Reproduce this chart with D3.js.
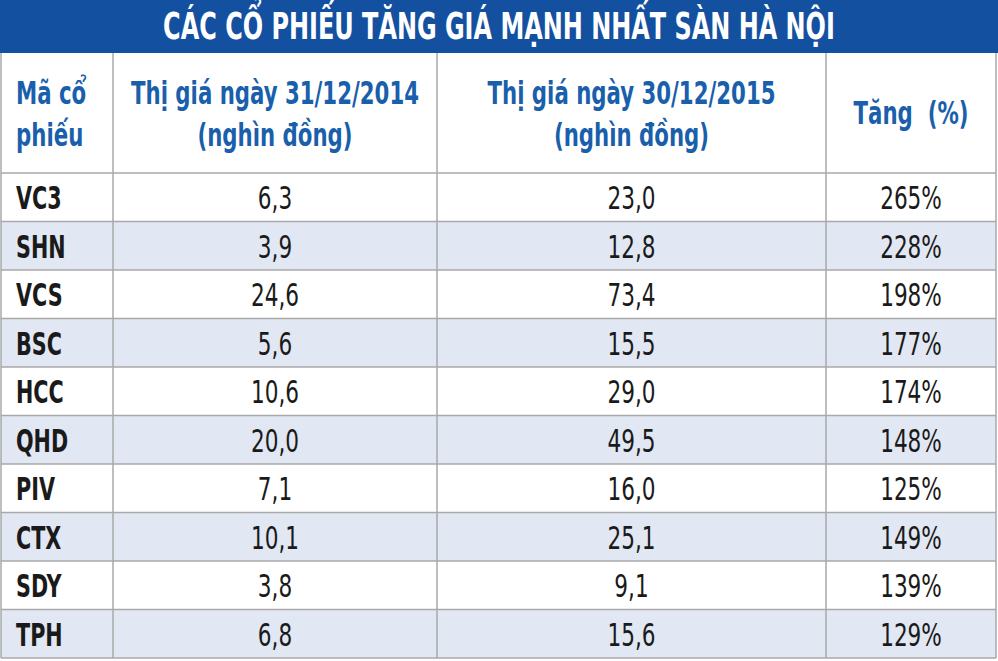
<!DOCTYPE html>
<html><head><meta charset="utf-8">
<script src="https://cdn.jsdelivr.net/npm/d3@7"></script>
<style>body{margin:0;background:#fff}text{font-family:"DejaVu Sans Condensed","Liberation Sans Narrow",sans-serif}</style>
</head><body><svg width="998" height="661"></svg>
<script>
let title = 'CÁC CỔ PHIẾU TĂNG GIÁ MẠNH NHẤT SÀN HÀ NỘI';
let headers = [['Mã cổ', 'phiếu'], ['Thị giá ngày 31/12/2014', '(nghìn đồng)'], ['Thị giá ngày 30/12/2015', '(nghìn đồng)'], ['Tăng  (%)']];
let codes = ['VC3', 'SHN', 'VCS', 'BSC', 'HCC', 'QHD', 'PIV', 'CTX', 'SDY', 'TPH'];
let price2014 = ['6,3', '3,9', '24,6', '5,6', '10,6', '20,0', '7,1', '10,1', '3,8', '6,8'];
let price2015 = ['23,0', '12,8', '73,4', '15,5', '29,0', '49,5', '16,0', '25,1', '9,1', '15,6'];
let growth = ['265%', '228%', '198%', '177%', '174%', '148%', '125%', '149%', '139%', '129%'];

let svg = d3.select('svg');
let colEdges = [1, 113, 437, 826, 996];
let titleH = 53, headTop = 53, headBot = 173, bottom = 658;
let y = d3.scaleBand().domain(d3.range(codes.length)).range([headBot, bottom]);

// condensed text: place at (x, y), squeeze horizontally
function ctext(parent, x, yy, sx) {
  return parent.append('g').attr('transform', 'translate(' + x + ',' + yy + ') scale(' + sx + ',1)')
    .append('text').attr('x', 0).attr('y', 0);
}

svg.append('rect').attr('x', 0).attr('y', 0).attr('width', 998).attr('height', titleH).attr('fill', '#1450a0');
ctext(svg, 499, 39, 0.72).attr('text-anchor', 'middle')
  .attr('fill', '#fff').attr('font-size', 37).attr('font-weight', 'bold').text(title);

let rows = svg.append('g');
codes.forEach(function(c, i) {
  rows.append('rect').attr('x', colEdges[0]).attr('y', y(i)).attr('width', colEdges[4] - colEdges[0])
    .attr('height', y.bandwidth()).attr('fill', i % 2 ? '#e1e7f3' : '#fff');
  let cy = y(i) + y.bandwidth() / 2 + 12;
  ctext(rows, 16, cy, 0.72).attr('font-size', 32).attr('font-weight', 'bold')
    .attr('fill', '#1a1a1a').text(c);
  [price2014[i], price2015[i], growth[i]].forEach(function(v, j) {
    ctext(rows, (colEdges[j + 1] + colEdges[j + 2]) / 2, cy, 0.75)
      .attr('text-anchor', 'middle').attr('font-size', 32).attr('fill', '#1a1a1a').text(v);
  });
});

// header
headers.forEach(function(h, j) {
  let cx = j === 0 ? 16 : (colEdges[j] + colEdges[j + 1]) / 2;
  let y0 = h.length === 2 ? 104 : 124;
  h.forEach(function(line, k) {
    ctext(svg, cx, y0 + k * 42, 0.74).attr('text-anchor', j === 0 ? 'start' : 'middle')
      .attr('font-size', 32).attr('font-weight', 'bold').attr('fill', '#1a5fab')
      .attr('xml:space', 'preserve').text(line);
  });
});

// grid
let grid = svg.append('g').attr('stroke', '#a9a9a9').attr('stroke-width', 1.5);
colEdges.forEach(function(x) {
  grid.append('line').attr('x1', x).attr('x2', x).attr('y1', headTop).attr('y2', bottom);
});
[headBot].concat(codes.map(function(c, i) { return y(i) + y.bandwidth(); })).forEach(function(yy) {
  grid.append('line').attr('x1', colEdges[0]).attr('x2', colEdges[4]).attr('y1', yy).attr('y2', yy);
});
</script></body></html>
